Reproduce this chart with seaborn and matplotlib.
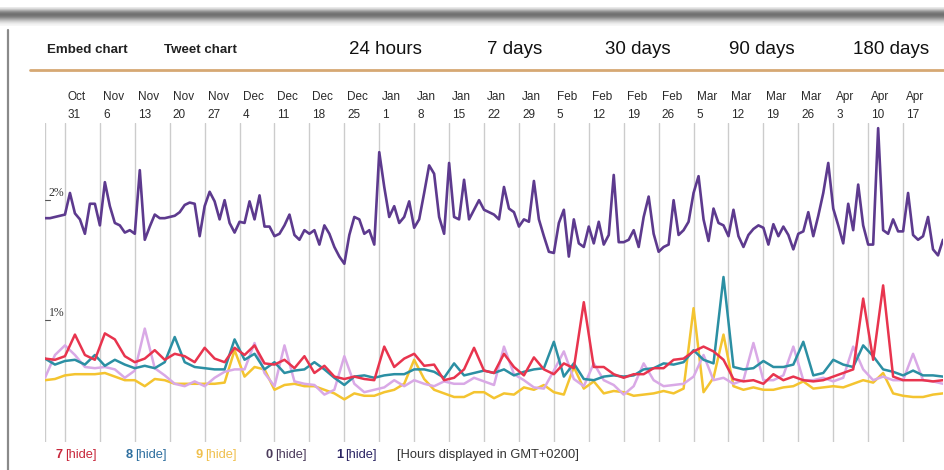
import pandas as pd
import matplotlib
matplotlib.use("Agg")
import matplotlib.pyplot as plt
import matplotlib.transforms as mtransforms
import seaborn as sns

# === DONNEES (en %) ===
start_date = "2011-10-27"

# serie "1" : un point par jour
purple_1 = [1.79, 1.79, 1.80, 1.81, 1.82, 2.00, 1.83, 1.78, 1.66, 1.91,
            1.91, 1.73, 2.09, 1.89, 1.75, 1.73, 1.67, 1.69, 1.66, 2.19,
            1.61, 1.72, 1.82, 1.79, 1.79, 1.80, 1.81, 1.84, 1.90, 1.92,
            1.91, 1.64, 1.89, 2.01, 1.93, 1.78, 1.94, 1.75, 1.67, 1.76,
            1.75, 1.93, 1.78, 1.98, 1.72, 1.72, 1.64, 1.66, 1.73, 1.82,
            1.65, 1.61, 1.69, 1.66, 1.69, 1.57, 1.73, 1.66, 1.55, 1.47,
            1.41, 1.65, 1.80, 1.78, 1.66, 1.69, 1.57, 2.34, 2.05, 1.80,
            1.89, 1.75, 1.80, 1.93, 1.71, 1.78, 2.00, 2.23, 2.16, 1.80,
            1.66, 2.25, 1.80, 1.78, 2.11, 1.78, 1.86, 1.94, 1.86, 1.84,
            1.82, 1.78, 2.05, 1.87, 1.84, 1.72, 1.78, 1.76, 2.10, 1.78,
            1.64, 1.51, 1.50, 1.75, 1.86, 1.47, 1.78, 1.58, 1.55, 1.72,
            1.58, 1.76, 1.57, 1.65, 2.15, 1.59, 1.59, 1.61, 1.69, 1.55,
            1.80, 1.97, 1.66, 1.51, 1.55, 1.57, 1.94, 1.65, 1.69, 1.76,
            2.00, 2.14, 1.78, 1.60, 1.87, 1.75, 1.73, 1.64, 1.86, 1.64,
            1.55, 1.65, 1.70, 1.73, 1.71, 1.57, 1.74, 1.64, 1.72, 1.65,
            1.53, 1.66, 1.68, 1.84, 1.64, 1.81, 2.00, 2.25, 1.87, 1.73,
            1.58, 1.91, 1.69, 2.07, 1.73, 1.57, 1.57, 2.54, 1.69, 1.66,
            1.78, 1.68, 1.68, 2.00, 1.65, 1.61, 1.64, 1.80, 1.53, 1.48, 1.61]

# series "7", "8", "9", "0" : un point tous les 2 jours
red_7 = [.62, .61, .64, .82, .65, .61, .83, .78, .64, .59, .62, .69, .61, .66, .64, .59, .71, .62, .59, .71,
         .65, .73, .58, .57, .61, .54, .64, .50, .56, .47, .45, .47, .45, .44, .72, .55, .62, .66, .56, .57,
         .44, .46, .53, .71, .52, .50, .66, .55, .48, .63, .53, .49, .58, .54, 1.09, .55, .55, .49, .46, .49,
         .49, .54, .54, .61, .62, .68, .72, .68, .61, .45, .43, .44, .41, .49, .44, .47, .44, .43, .44, .47,
         .50, .53, 1.12, .61, 1.23, .47, .44, .44, .44, .43, .44]
teal_8 = [.62, .57, .60, .61, .57, .65, .56, .61, .57, .54, .56, .54, .59, .80, .59, .55, .54, .53, .53, .78,
          .61, .66, .53, .59, .50, .52, .53, .59, .53, .46, .40, .47, .48, .46, .48, .49, .49, .53, .53, .51,
          .46, .58, .48, .50, .52, .50, .53, .48, .51, .53, .54, .76, .47, .58, .45, .44, .47, .48, .47, .48,
          .53, .54, .58, .57, .59, .69, .61, .58, 1.30, .55, .53, .54, .60, .55, .55, .57, .76, .48, .50, .61,
          .57, .55, .73, .64, .53, .51, .48, .52, .48, .48, .47]
yellow_9 = [.44, .45, .48, .49, .49, .49, .50, .47, .44, .44, .39, .45, .44, .41, .41, .41, .41, .41, .42, .69,
            .47, .55, .53, .36, .40, .41, .39, .39, .36, .33, .28, .33, .31, .31, .34, .36, .41, .61, .45, .36,
            .33, .30, .30, .34, .34, .29, .33, .32, .38, .36, .40, .34, .32, .55, .37, .43, .33, .35, .34, .31,
            .32, .33, .35, .33, .37, 1.04, .34, .46, .82, .39, .36, .38, .36, .36, .38, .39, .43, .37, .38, .39,
            .38, .41, .44, .42, .50, .33, .31, .30, .30, .32, .33]
lilac_0 = [.46, .65, .73, .65, .55, .54, .55, .53, .46, .52, .87, .54, .48, .41, .39, .43, .39, .46, .51, .53,
           .53, .75, .50, .39, .73, .43, .41, .40, .32, .36, .64, .41, .34, .36, .38, .44, .39, .44, .41, .39,
           .43, .41, .41, .46, .43, .40, .72, .49, .44, .38, .37, .52, .68, .45, .39, .58, .44, .40, .32, .39,
           .58, .44, .39, .40, .41, .47, .65, .44, .46, .41, .44, .75, .44, .44, .48, .72, .44, .44, .46, .43,
           .46, .72, .53, .44, .47, .44, .44, .66, .44, .43, .41]

tick_months = ["Oct", "Nov", "Nov", "Nov", "Nov", "Dec", "Dec", "Dec", "Dec", "Jan", "Jan", "Jan", "Jan",
               "Jan", "Feb", "Feb", "Feb", "Feb", "Mar", "Mar", "Mar", "Mar", "Apr", "Apr", "Apr"]
tick_days = ["31", "6", "13", "20", "27", "4", "11", "18", "25", "1", "8", "15", "22",
             "29", "5", "12", "19", "26", "5", "12", "19", "26", "3", "10", "17"]
first_tick = "2011-10-31"

periods = ["24 hours", "7 days", "30 days", "90 days", "180 days"]
legend_names = ["7", "8", "9", "0", "1"]
legend_colors = ["#c8283c", "#2f6f9f", "#f0c04e", "#4b3b5b", "#2b2563"]

# === FIGURE ===
W, H = 944, 470
sns.set_style("white")
plt.rcParams["font.family"] = ["Liberation Sans", "DejaVu Sans"]


def fx(px):
    return px / W


def fy(py):
    return 1 - py / H


fig = plt.figure(figsize=(W / 100, H / 100), dpi=100)

# barre grise du haut
bar = fig.add_axes([0, fy(26), 1, 19 / H])
bar.imshow([[0.93], [0.70], [0.50], [0.42], [0.48], [0.62], [0.78], [0.90], [0.97]],
           cmap="gray", vmin=0, vmax=1, aspect="auto", interpolation="bicubic")
bar.axis("off")

# bord gauche et ligne du bandeau
fig.add_artist(plt.Line2D([fx(8), fx(8)], [fy(30), fy(470)], color="#8a8a8a", lw=1.6))
fig.add_artist(plt.Line2D([fx(30), fx(944)], [fy(70), fy(70)], color="#d6a873", lw=2))

fig.text(fx(47), fy(50), "Embed chart", fontsize=9.6, fontweight="bold", va="center", color="#222222")
fig.text(fx(164), fy(50), "Tweet chart", fontsize=9.6, fontweight="bold", va="center", color="#222222")
for label, px in zip(periods, [349, 487, 605, 729, 853]):
    fig.text(fx(px), fy(50), label, fontsize=13.5, va="center", color="#111111")

# === AXE PRINCIPAL ===
ax = fig.add_axes([fx(45), fy(442), fx(943) - fx(45), (442 - 123) / H])
days_1 = pd.date_range(start_date, periods=len(purple_1), freq="D")
days_2 = pd.date_range(start_date, periods=len(red_7), freq="2D")

ticks = pd.date_range(first_tick, periods=len(tick_days), freq="7D")
for t in [days_1[0]] + list(ticks):
    ax.axvline(t, color="#cccccc", lw=1, zorder=0)

sns.lineplot(x=days_2, y=yellow_9, color="#f4c430", lw=1.8, ax=ax)
sns.lineplot(x=days_2, y=lilac_0, color="#d9a9e6", lw=1.8, ax=ax)
sns.lineplot(x=days_2, y=teal_8, color="#2b8fa3", lw=1.8, ax=ax)
sns.lineplot(x=days_2, y=red_7, color="#e8344e", lw=1.8, ax=ax)
sns.lineplot(x=days_1, y=purple_1, color="#5d3a8e", lw=1.9, ax=ax)

ax.set_xlim(days_1[0], days_1[-1])
ax.set_ylim(-0.075, 2.583)
ax.set_xticks([])
ax.set_yticks([])
ax.set_xlabel("")
ax.set_ylabel("")
sns.despine(ax=ax, left=True, bottom=True)

# etiquettes de dates (deux lignes)
off = mtransforms.offset_copy(ax.get_xaxis_transform(), fig=fig, x=3, y=0, units="dots")
for t, m, d in zip(ticks, tick_months, tick_days):
    ax.text(t, 1 + 26 / 319, m, transform=off, fontsize=8.5, va="center", ha="left",
            color="#2a2a2a", clip_on=False)
    ax.text(t, 1 + 8 / 319, d, transform=off, fontsize=8.5, va="center", ha="left",
            color="#2a2a2a", clip_on=False)

# reperes 2% et 1%
for v in [2, 1]:
    ax.text(0.004, v, f"{v}%", transform=ax.get_yaxis_transform(), fontsize=8.5,
            family="Liberation Serif", va="center", ha="left", color="#333333")
    ax.plot([days_1[0], days_1[1]], [v - 0.055, v - 0.055], color="#555555", lw=0.8)

# legende du bas
xpos = [56, 126, 196, 266, 336]
for name, col, px in zip(legend_names, legend_colors, xpos):
    fig.text(fx(px), fy(455), name, fontsize=9.3, fontweight="bold", color=col, va="center")
    fig.text(fx(px + 9), fy(455), "[hide]", fontsize=9.3, color=col, va="center")
fig.text(fx(397), fy(455), "[Hours displayed in GMT+0200]", fontsize=9.3, color="#333333", va="center")

plt.savefig("out.png", dpi=100)
plt.close()
